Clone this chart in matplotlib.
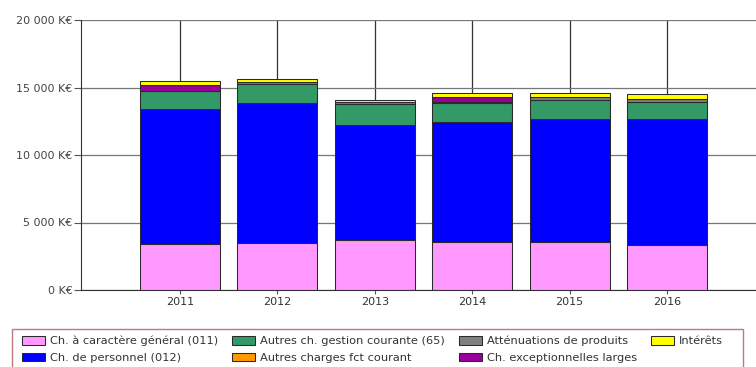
import matplotlib
matplotlib.use("Agg")
import numpy as np
import matplotlib.pyplot as plt
from matplotlib.patches import Patch, Rectangle
from matplotlib.ticker import FuncFormatter

# Dépenses de fonctionnement, en milliers d'euros
years = ["2011", "2012", "2013", "2014", "2015", "2016"]
ch_general = [3410, 3460, 3700, 3550, 3550, 3330]
ch_personnel = [9990, 10390, 8520, 8890, 9120, 9340]
autres_gestion = [1340, 1410, 1560, 1410, 1400, 1260]
attenuations = [30, 150, 110, 80, 220, 220]
autres_fct = [0, 0, 0, 0, 0, 0]
exceptionnelles = [440, 0, 0, 370, 0, 0]
interets = [300, 220, 190, 300, 300, 370]

series = [
    ("Ch. à caractère général (011)", ch_general, "#ff99ff"),
    ("Ch. de personnel (012)", ch_personnel, "#0000ff"),
    ("Autres ch. gestion courante (65)", autres_gestion, "#339966"),
    ("Atténuations de produits", attenuations, "#808080"),
    ("Autres charges fct courant", autres_fct, "#ff9900"),
    ("Ch. exceptionnelles larges", exceptionnelles, "#990099"),
    ("Intérêts", interets, "#ffff00"),
]
# legend order (filled column by column, 4 columns)
legend_order = [0, 1, 2, 4, 3, 5, 6]

edge = "#2a2a2a"
W, H = 756, 367

fig = plt.figure(figsize=(W / 100, H / 100), dpi=100)
ax = fig.add_axes([81 / W, 1 - 290 / H, 1 - 81 / W + 0.001, 270 / H])

x = np.arange(len(years))
bottom = np.zeros(len(years))
for label, vals, color in series:
    vals = np.array(vals, dtype=float)
    ax.bar(x, vals, width=0.82, bottom=bottom, color=color,
           edgecolor=edge, linewidth=0.75, zorder=3)
    bottom += vals

ax.set_xlim(-1.015, 5.92)
ax.set_ylim(0, 20000)
ax.set_yticks([0, 5000, 10000, 15000, 20000])
ax.yaxis.set_major_formatter(FuncFormatter(
    lambda v, p: f"{int(v):,}".replace(",", " ") + " K€"))
ax.set_xticks(x)
ax.set_xticklabels(years)

ax.grid(axis="y", color="#777777", linewidth=0.9, zorder=0)
ax.grid(axis="x", color="#333333", linewidth=0.9, zorder=0)
for side in ["top", "right"]:
    ax.spines[side].set_visible(False)
for side in ["left", "bottom"]:
    ax.spines[side].set_color("#333333")
    ax.spines[side].set_zorder(4)
ax.tick_params(axis="y", length=5, color="#555555", labelsize=8,
               labelcolor="#444444", pad=1)
ax.tick_params(axis="x", length=3, color="#555555", labelsize=8,
               labelcolor="#333333", pad=2)

# legend frame
fig.patches.append(Rectangle((12 / W, -0.05), 731 / W, (H - 329) / H + 0.05,
                             transform=fig.transFigure, facecolor="white",
                             edgecolor="#c07878", linewidth=1.0))

handles = [Patch(facecolor=series[i][2], edgecolor=edge, linewidth=0.75,
                 label=series[i][0]) for i in legend_order]
leg = fig.legend(handles=handles, ncol=4, loc="upper left",
                 bbox_to_anchor=(22 / W, 1 - 336 / H),
                 fontsize=8.2, frameon=False,
                 handlelength=2.0, handleheight=0.75, handletextpad=0.45,
                 labelspacing=0.55, columnspacing=1.25,
                 borderpad=0, borderaxespad=0)
for t in leg.get_texts():
    t.set_color("#333333")

fig.savefig("out.png", dpi=100)
